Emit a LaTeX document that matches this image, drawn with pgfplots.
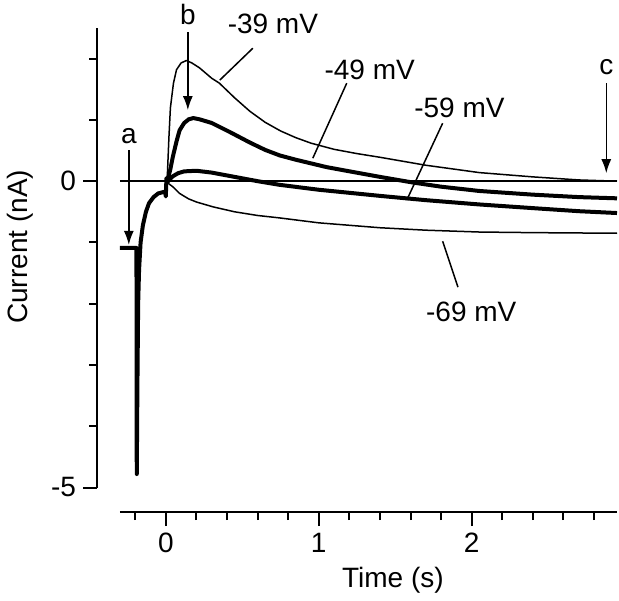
\documentclass[border=0pt]{standalone}
\usepackage{fontspec}
\setmainfont{Liberation Sans}
\usepackage{pgfplots}
\pgfplotsset{compat=1.18}
\usetikzlibrary{arrows.meta}
\newcommand{\lf}{\fontsize{14}{16}\selectfont}
\begin{document}
\begin{tikzpicture}
\begin{axis}[
  at={(0,0)}, anchor=south west,
  scale only axis, width=260pt, height=242pt,
  xmin=-0.45, xmax=2.95, ymin=-5.4, ymax=2.5,
  clip=false,
  axis line style={draw=none},
  xtick pos=bottom, ytick pos=left,
  tick align=outside,
  xtick={0,1,2}, xticklabels={0,1,2},
  minor xtick={-0.2,0.2,0.4,0.6,0.8,1.2,1.4,1.6,1.8,2.2,2.4,2.6,2.8},
  ytick={-5,0}, yticklabels={-5,0},
  minor ytick={-4,-3,-2,-1,1,2},
  major tick length=7pt, minor tick length=4pt,
  every tick/.style={black, line width=1pt},
  tick label style={font=\lf},
  xlabel={Time (s)},
  label style={font=\lf},
  xlabel style={at={(rel axis cs:0.569,0)}, anchor=center, yshift=-34pt},
]
% axis lines
\draw[line width=1pt] (axis cs:-0.45,-5) -- (axis cs:-0.45,2.5);
\draw[line width=1pt] (axis cs:-0.3,-5.4) -- (axis cs:2.95,-5.4);
% zero line
\addplot[black, line width=0.75pt] coordinates {(-0.3,0) (2.95,0)};
% common pre-pulse segment
\addplot[black, line width=2pt, line join=round] coordinates {
(-0.30,-1.09) (-0.192,-1.09) (-0.19,-4.78) (-0.186,-3.4) (-0.181,-2.0) (-0.175,-1.45)
(-0.165,-1.0) (-0.15,-0.72) (-0.13,-0.5) (-0.11,-0.36) (-0.08,-0.26) (-0.05,-0.2)
(-0.02,-0.18) (-0.005,-0.17) (0,-0.25) (0.004,0.05) (0.008,-0.02)};
% -39 mV
\addplot[black, line width=0.75pt, line join=round] coordinates {
(0.008,-0.02) (0.02,0.7) (0.03,1.2) (0.05,1.6) (0.07,1.82) (0.1,1.93) (0.135,1.97)
(0.17,1.93) (0.22,1.85) (0.3,1.68) (0.35,1.6) (0.45,1.36) (0.55,1.14) (0.65,0.96)
(0.75,0.82) (0.85,0.71) (0.95,0.62) (1.1,0.52) (1.25,0.45) (1.4,0.39) (1.7,0.26)
(2.05,0.14) (2.4,0.07) (2.7,0.02) (2.95,0.0)};
% -49 mV
\addplot[black, line width=2pt, line join=round] coordinates {
(0.008,-0.02) (0.03,0.2) (0.046,0.4) (0.07,0.65) (0.09,0.83) (0.12,0.95) (0.15,1.01)
(0.18,1.03) (0.22,1.01) (0.3,0.95) (0.42,0.8) (0.55,0.63) (0.65,0.51) (0.745,0.42)
(0.85,0.35) (0.95,0.29) (1.05,0.23) (1.18,0.17) (1.4,0.07) (1.61,-0.02) (1.8,-0.09)
(2.05,-0.16) (2.4,-0.22) (2.7,-0.26) (2.95,-0.28)};
% -59 mV
\addplot[black, line width=2pt, line join=round] coordinates {
(0.008,-0.02) (0.03,0.04) (0.046,0.08) (0.08,0.13) (0.12,0.16) (0.2,0.17) (0.3,0.14)
(0.45,0.07) (0.6,0.0) (0.745,-0.06) (1.0,-0.14) (1.4,-0.24) (1.7,-0.31) (2.05,-0.38)
(2.4,-0.44) (2.7,-0.49) (2.95,-0.52)};
% -69 mV
\addplot[black, line width=0.75pt, line join=round] coordinates {
(0.008,-0.02) (0.05,-0.1) (0.09,-0.2) (0.15,-0.29) (0.2,-0.34) (0.31,-0.42) (0.45,-0.5)
(0.6,-0.56) (0.745,-0.6) (1.0,-0.68) (1.4,-0.76) (1.7,-0.8) (2.05,-0.83) (2.4,-0.84)
(2.95,-0.85)};
% y label
\node[font=\lf, rotate=90] at ([xshift=-38.5pt]rel axis cs:0,0.548) {Current (nA)};
% annotations
\node[font=\lf] at (axis cs:-0.242,0.73) {a};
\draw[line width=0.75pt, -{Latex[length=7pt,width=5pt]}] (axis cs:-0.242,0.506) -- (axis cs:-0.242,-1.04);
\node[font=\lf] at (axis cs:0.144,2.72) {b};
\draw[line width=0.75pt, -{Latex[length=7pt,width=5pt]}] (axis cs:0.144,2.43) -- (axis cs:0.144,1.16);
\node[font=\lf] at (axis cs:2.88,1.86) {c};
\draw[line width=0.75pt, -{Latex[length=7pt,width=5pt]}] (axis cs:2.88,1.6) -- (axis cs:2.88,0.13);
\node[font=\lf] at (axis cs:0.70,2.56) {-39 mV};
\draw[line width=0.75pt] (axis cs:0.569,2.17) -- (axis cs:0.353,1.65);
\node[font=\lf] at (axis cs:1.333,1.81) {-49 mV};
\draw[line width=0.75pt] (axis cs:1.183,1.60) -- (axis cs:0.961,0.375);
\node[font=\lf] at (axis cs:1.92,1.19) {-59 mV};
\draw[line width=0.75pt] (axis cs:1.81,0.946) -- (axis cs:1.575,-0.31);
\node[font=\lf] at (axis cs:1.997,-2.14) {-69 mV};
\draw[line width=0.75pt] (axis cs:1.81,-0.98) -- (axis cs:1.91,-1.73);
\end{axis}
\pgfresetboundingbox
\path[use as bounding box] (-48.5pt,-44pt) rectangle (261pt,256pt);
\end{tikzpicture}
\end{document}
